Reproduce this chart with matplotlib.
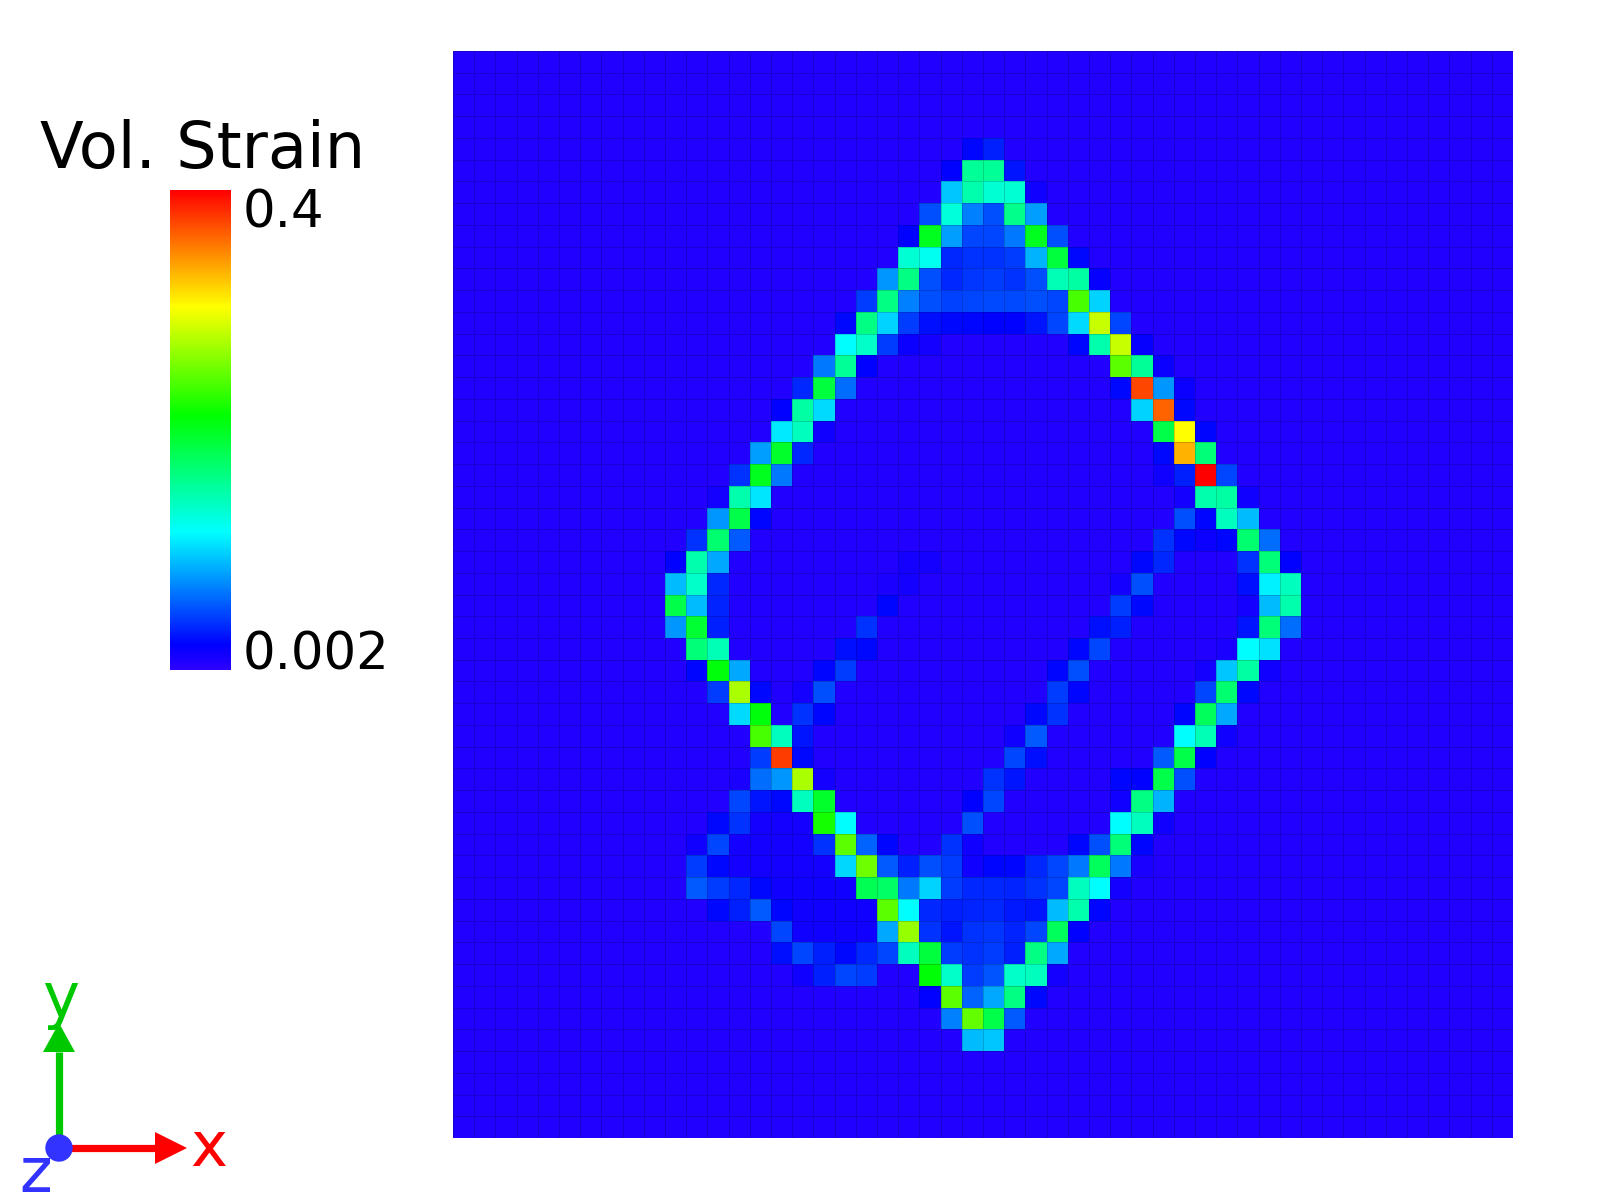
#!/usr/bin/env python3
"""
Vol. strain map on a 50x50 cell grid, with colour legend and xyz triad
"""

import numpy as np
import matplotlib
matplotlib.use('Agg')
import matplotlib.pyplot as plt
from matplotlib.colors import LinearSegmentedColormap, Normalize
from matplotlib.patches import Polygon, Circle

n_cells = 50
background = 8  # strain * 1000, every cell not listed below

# strain * 1000, one line per grid row (row 0 on top)
hot_rows = list(range(4, 46))
hot_cols = [
    [24, 25],
    [23, 24, 25, 26],
    [23, 24, 25, 26, 27],
    [22, 23, 24, 25, 26, 27],
    [21, 22, 23, 24, 25, 26, 27, 28],
    [21, 22, 23, 24, 25, 26, 27, 28, 29],
    [20, 21, 22, 23, 24, 25, 26, 27, 28, 29, 30],
    [19, 20, 21, 22, 23, 24, 25, 26, 27, 28, 29, 30],
    [18, 19, 20, 21, 22, 23, 24, 25, 26, 27, 28, 29, 30, 31],
    [18, 19, 20, 21, 22, 29, 30, 31, 32],
    [17, 18, 19, 31, 32, 33],
    [16, 17, 18, 31, 32, 33, 34],
    [15, 16, 17, 32, 33, 34],
    [15, 16, 17, 33, 34, 35],
    [14, 15, 16, 33, 34, 35],
    [13, 14, 15, 33, 34, 35, 36],
    [12, 13, 14, 34, 35, 36, 37],
    [12, 13, 14, 34, 35, 36, 37],
    [11, 12, 13, 33, 34, 35, 36, 37, 38],
    [10, 11, 12, 21, 22, 32, 33, 37, 38, 39],
    [10, 11, 12, 20, 21, 31, 32, 37, 38, 39],
    [10, 11, 12, 20, 31, 32, 37, 38, 39],
    [10, 11, 12, 19, 30, 31, 37, 38, 39],
    [11, 12, 18, 19, 29, 30, 36, 37, 38],
    [11, 12, 13, 17, 18, 28, 29, 35, 36, 37, 38],
    [12, 13, 14, 16, 17, 28, 29, 35, 36, 37],
    [13, 14, 16, 17, 27, 28, 34, 35, 36],
    [14, 15, 16, 26, 27, 34, 35, 36],
    [14, 15, 16, 26, 27, 33, 34, 35],
    [13, 14, 15, 16, 17, 25, 26, 31, 32, 33, 34],
    [13, 14, 15, 16, 17, 24, 25, 31, 32, 33],
    [12, 13, 14, 15, 16, 17, 18, 24, 31, 32, 33],
    [11, 12, 13, 14, 15, 16, 17, 18, 19, 20, 23, 24, 29, 30, 31, 32],
    [11, 12, 13, 14, 15, 16, 17, 18, 19, 20, 21, 22, 23, 24, 25, 26, 27, 28, 29, 30, 31, 32],
    [11, 12, 13, 14, 15, 16, 17, 18, 19, 20, 21, 22, 23, 24, 25, 26, 27, 28, 29, 30, 31],
    [12, 13, 14, 15, 16, 17, 18, 19, 20, 21, 22, 23, 24, 25, 26, 27, 28, 29, 30],
    [15, 16, 17, 18, 19, 20, 21, 22, 23, 24, 25, 26, 27, 28, 29],
    [15, 16, 17, 18, 19, 20, 21, 22, 23, 24, 25, 26, 27, 28],
    [16, 17, 18, 19, 22, 23, 24, 25, 26, 27, 28],
    [22, 23, 24, 25, 26, 27],
    [23, 24, 25, 26],
    [24, 25],
]
hot_vals = [
    [25, 34],
    [23, 156, 156, 30],
    [96, 148, 133, 133, 16],
    [52, 130, 70, 52, 160, 81],
    [23, 201, 81, 48, 48, 67, 201, 52],
    [133, 122, 37, 41, 41, 45, 89, 190, 26],
    [78, 163, 52, 37, 43, 45, 41, 52, 144, 152, 20],
    [45, 163, 70, 52, 47, 48, 50, 50, 52, 48, 238, 100],
    [26, 163, 100, 45, 28, 26, 25, 23, 23, 30, 48, 103, 284, 48],
    [116, 137, 45, 18, 14, 25, 148, 284, 20],
    [67, 156, 23, 245, 156, 18],
    [37, 190, 63, 26, 373, 78, 18],
    [23, 152, 103, 100, 362, 26],
    [109, 141, 16, 186, 303, 25],
    [81, 197, 37, 26, 332, 167],
    [41, 201, 67, 16, 34, 400, 48],
    [14, 148, 107, 14, 148, 152, 16],
    [78, 186, 25, 52, 25, 141, 92],
    [41, 171, 56, 41, 26, 18, 25, 171, 63],
    [23, 148, 85, 14, 14, 26, 37, 41, 167, 23],
    [92, 137, 37, 12, 14, 14, 52, 28, 111, 141],
    [186, 92, 36, 25, 45, 26, 14, 92, 148],
    [78, 194, 34, 41, 28, 34, 30, 167, 63],
    [167, 144, 28, 26, 25, 48, 12, 116, 105],
    [25, 209, 85, 25, 45, 25, 52, 14, 96, 152, 16],
    [45, 273, 26, 14, 52, 45, 25, 48, 171, 26],
    [103, 209, 41, 25, 26, 41, 25, 179, 85],
    [238, 141, 30, 16, 56, 116, 144, 16],
    [45, 377, 26, 48, 28, 56, 186, 23],
    [12, 63, 78, 273, 14, 41, 30, 25, 23, 186, 52],
    [48, 30, 26, 141, 197, 23, 48, 16, 163, 89],
    [26, 41, 14, 14, 14, 220, 116, 52, 116, 141, 16],
    [16, 48, 14, 14, 14, 14, 41, 245, 59, 25, 41, 16, 25, 52, 167, 25],
    [45, 26, 14, 14, 14, 14, 14, 102, 252, 56, 34, 52, 45, 16, 25, 25, 37, 48, 67, 179, 67, 12],
    [56, 45, 37, 26, 16, 16, 16, 16, 182, 175, 67, 100, 45, 37, 37, 36, 41, 48, 141, 116, 14],
    [26, 34, 56, 25, 16, 16, 16, 16, 245, 116, 37, 34, 36, 37, 32, 30, 92, 148, 25],
    [48, 16, 16, 16, 16, 85, 266, 41, 30, 41, 43, 36, 48, 179, 23],
    [28, 48, 34, 26, 37, 48, 141, 190, 45, 41, 45, 34, 163, 85],
    [16, 34, 48, 45, 211, 137, 45, 54, 137, 141, 14],
    [23, 245, 59, 85, 163, 26],
    [70, 248, 186, 56],
    [92, 96],
]

strain_min = 0.002
strain_max = 0.4
legend_title = 'Vol. Strain'
legend_ticks = ['0.4', '0.002']

strain = np.full((n_cells, n_cells), background, dtype=float)
for row, cols, vals in zip(hot_rows, hot_cols, hot_vals):
    strain[row, cols] = vals
strain = strain / 1000.0

cmap = LinearSegmentedColormap.from_list('vol_strain', [
    (0.0, (45/255, 0, 1)),
    (0.052, (0, 0, 1)),
    (0.287, (0, 1, 1)),
    (0.53, (0, 1, 0)),
    (0.757, (1, 1, 0)),
    (1.0, (1, 0, 0)),
], N=512)
norm = Normalize(strain_min, strain_max)

W, H = 1600, 1200
fig = plt.figure(figsize=(16, 12), dpi=100)

# main map
ax = fig.add_axes([453/W, (H-1138)/H, 1060/W, 1087/H])
mesh = ax.pcolormesh(np.arange(n_cells+1), np.arange(n_cells+1), strain, cmap=cmap, norm=norm,
                     edgecolors=(0, 0, 0, 0.17), linewidth=0.7)
ax.set_xlim(0, n_cells)
ax.set_ylim(n_cells, 0)
ax.axis('off')

# colour legend
cax = fig.add_axes([170/W, (H-670)/H, 61/W, 480/H])
cb = fig.colorbar(mesh, cax=cax)
cb.set_ticks([])
cb.outline.set_visible(False)

# overlay in pixel coordinates for texts and the triad
over = fig.add_axes([0, 0, 1, 1], facecolor='none')
over.set_xlim(0, W)
over.set_ylim(H, 0)
over.axis('off')

over.text(40, 168, legend_title, fontsize=46, color='black', va='baseline', ha='left')
over.text(243, 228, legend_ticks[0], fontsize=37, color='black', va='baseline', ha='left')
over.text(243, 669, legend_ticks[1], fontsize=37, color='black', va='baseline', ha='left')

red = '#ff0000'
green = '#00c800'
blue = '#3333ff'
ox, oy = 59, 1148
over.plot([ox, 155], [oy, oy], color=red, lw=5.2, solid_capstyle='butt')
over.add_patch(Polygon([(155, oy-16), (187, oy), (155, oy+16)], color=red, lw=0))
over.plot([ox, ox], [oy, 1052], color=green, lw=5.2, solid_capstyle='butt')
over.add_patch(Polygon([(ox-16, 1052), (ox, 1023), (ox+16, 1052)], color=green, lw=0))
over.add_patch(Circle((ox, oy), 13.7, color=blue, lw=0, zorder=5))
over.text(190, 1166, 'x', fontsize=45, color=red, va='baseline', ha='left')
over.text(42, 1017, 'y', fontsize=45, color=green, va='baseline', ha='left')
over.text(19, 1192, 'z', fontsize=45, color=blue, va='baseline', ha='left')

fig.savefig('out.png', dpi=100)
